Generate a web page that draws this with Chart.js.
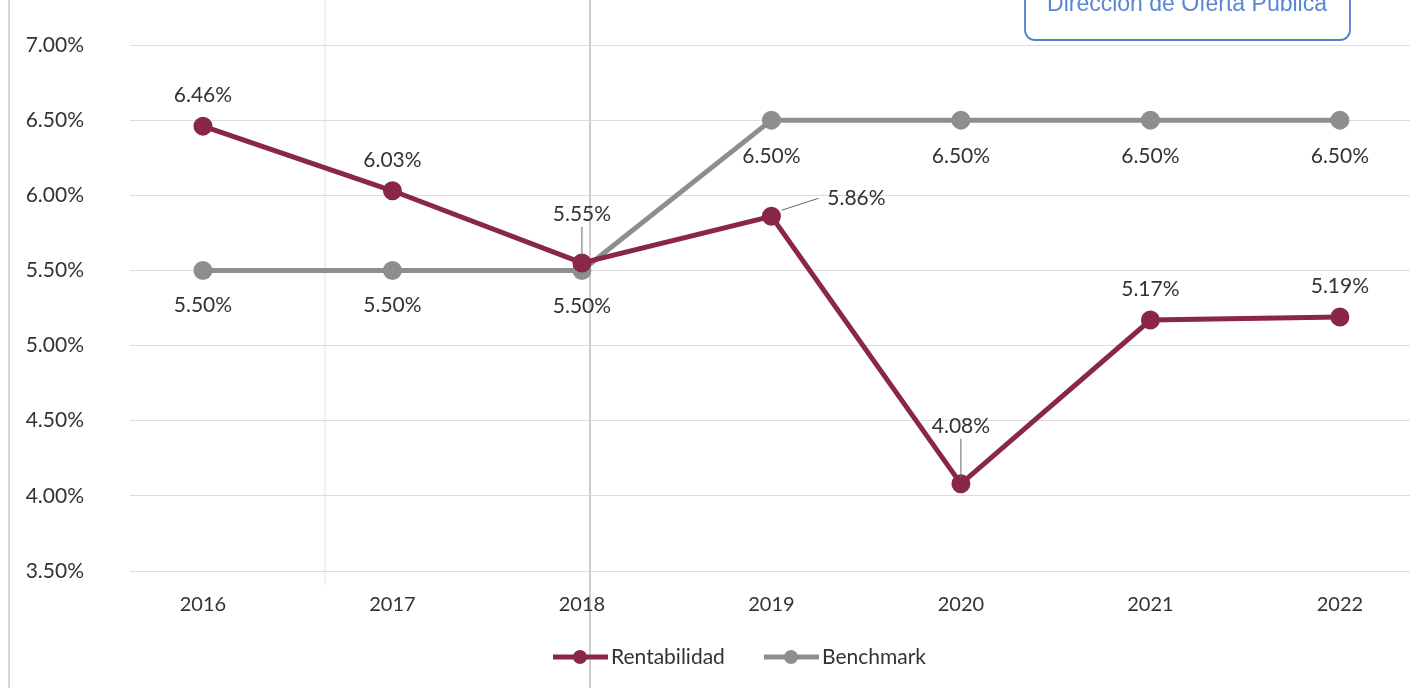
<!DOCTYPE html>
<html>
<head>
<meta charset="utf-8">
<script src="https://cdn.jsdelivr.net/npm/chart.js@4.4.0/dist/chart.umd.min.js"></script>
<style>
  html, body { margin: 0; padding: 0; background: #fff; }
  #wrap { width: 1417px; height: 688px; position: relative; }
</style>
</head>
<body>
<div id="wrap"><canvas id="chart" width="1417" height="688"></canvas></div>
<script>
const years = [2016, 2017, 2018, 2019, 2020, 2021, 2022];
const rentabilidad = [6.46, 6.03, 5.55, 5.86, 4.08, 5.17, 5.19];
const benchmark = [5.50, 5.50, 5.50, 6.50, 6.50, 6.50, 6.50];
const yTicks = [3.5, 4.0, 4.5, 5.0, 5.5, 6.0, 6.5, 7.0];

const RED = '#8a2748';
const GREY = '#8e8e8e';
const FONT = 'Lato, "Open Sans", sans-serif';

// label placement per point: [dx, dy, leader]
const rentLabelPos = [
    [0, -31], [0, -31], [0, -49, true], [85, -18, true], [0, -58, true], [0, -31], [0, -31]
];
const benchLabelPos = [
    [0, 35], [0, 35], [0, 36], [0, 36], [0, 36], [0, 36], [0, 36]
];

const fmt = v => v.toFixed(2) + '%';

const decor = {
    id: 'decor',
    beforeDraw(chart) {
        const ctx = chart.ctx;
        ctx.save();
        // scan artefacts: page edge and fold lines
        ctx.strokeStyle = '#c8c8c8';
        ctx.lineWidth = 1.5;
        ctx.beginPath(); ctx.moveTo(9, 0); ctx.lineTo(9, 688); ctx.stroke();
        ctx.strokeStyle = '#e2e2e2';
        ctx.lineWidth = 1;
        ctx.beginPath(); ctx.moveTo(325, 0); ctx.lineTo(325, 585); ctx.stroke();
        ctx.strokeStyle = '#bdbdbd';
        ctx.lineWidth = 1.5;
        ctx.beginPath(); ctx.moveTo(590, 0); ctx.lineTo(590, 688); ctx.stroke();
        ctx.restore();
    },
    afterDraw(chart) {
        const ctx = chart.ctx;
        const xs = chart.scales.x, ys = chart.scales.y;
        ctx.save();
        ctx.font = '21px ' + FONT;
        ctx.fillStyle = '#333';
        ctx.textAlign = 'center';
        ctx.textBaseline = 'middle';
        const drawLabels = (vals, pos) => {
            vals.forEach((v, i) => {
                const px = xs.getPixelForValue(years[i]);
                const py = ys.getPixelForValue(v);
                const [dx, dy, leader] = pos[i];
                const lx = px + dx, ly = py + dy;
                ctx.fillText(fmt(v), lx, ly);
                if (leader) {
                    ctx.strokeStyle = '#666';
                    ctx.lineWidth = 1;
                    ctx.beginPath();
                    if (dx === 0) {
                        ctx.moveTo(px, ly + 13);
                        ctx.lineTo(px, py - 6);
                    } else {
                        ctx.moveTo(px + 10, py - 6);
                        ctx.lineTo(lx - 38, ly);
                    }
                    ctx.stroke();
                }
            });
        };
        drawLabels(benchmark, benchLabelPos);
        drawLabels(rentabilidad, rentLabelPos);

        // legend
        ctx.textAlign = 'left';
        ctx.font = '21px ' + FONT;
        const items = chart.data.datasets.map(d => ({ label: d.label, color: d.borderColor }));
        let x = 553;
        const ly = 657;
        items.forEach(it => {
            ctx.strokeStyle = it.color;
            ctx.lineWidth = 5;
            ctx.beginPath(); ctx.moveTo(x, ly); ctx.lineTo(x + 55, ly); ctx.stroke();
            ctx.fillStyle = it.color;
            ctx.beginPath(); ctx.arc(x + 27, ly, 7, 0, Math.PI * 2); ctx.fill();
            ctx.fillStyle = '#333';
            ctx.fillText(it.label, x + 58, ly);
            x += 211;
        });

        // stamp
        ctx.strokeStyle = '#4f7fd0';
        ctx.lineWidth = 1.8;
        ctx.beginPath();
        ctx.roundRect(1025, -30, 325, 70, 10);
        ctx.stroke();
        ctx.fillStyle = '#5a87d2';
        ctx.font = '23px "Liberation Sans", Arial, sans-serif';
        ctx.textAlign = 'center';
        ctx.fillText('Dirección de Oferta Pública', 1187, 5);
        ctx.restore();
    }
};

new Chart(document.getElementById('chart').getContext('2d'), {
    type: 'line',
    data: {
        datasets: [{
            label: 'Rentabilidad',
            data: years.map((y, i) => ({ x: y, y: rentabilidad[i] })),
            borderColor: RED,
            backgroundColor: RED,
            borderWidth: 5,
            pointRadius: 7,
            pointHoverRadius: 7,
            pointBackgroundColor: RED,
            pointBorderColor: RED,
            tension: 0,
        }, {
            label: 'Benchmark',
            data: years.map((y, i) => ({ x: y, y: benchmark[i] })),
            borderColor: GREY,
            backgroundColor: GREY,
            borderWidth: 5,
            pointRadius: 7,
            pointHoverRadius: 7,
            pointBackgroundColor: GREY,
            pointBorderColor: GREY,
            tension: 0,
        }],
    },
    options: {
        responsive: false,
        animation: false,
        layout: { autoPadding: false, padding: { top: 45, right: 7, left: 0, bottom: 0 } },
        plugins: {
            legend: { display: false },
            tooltip: { enabled: false },
        },
        scales: {
            x: {
                type: 'linear',
                min: 2015.615,
                max: 2022.37,
                afterBuildTicks: scale => { scale.ticks = years.map(v => ({ value: v })); },
                grid: { display: false, drawTicks: false },
                border: { display: false },
                ticks: {
                    padding: 22,
                    color: '#333',
                    font: { family: FONT, size: 20 },
                    callback: v => String(v),
                },
                afterFit: s => { s.height = 117; },
            },
            y: {
                min: 3.5,
                max: 7.0,
                afterBuildTicks: scale => { scale.ticks = yTicks.map(v => ({ value: v })); },
                grid: { color: '#dcdcdc', lineWidth: 1, drawTicks: false },
                border: { display: false },
                ticks: {
                    padding: 46,
                    color: '#333',
                    font: { family: FONT, size: 21 },
                    callback: v => fmt(v),
                },
                afterFit: s => { s.width = 130; s.paddingTop = 0; s.paddingBottom = 0; },
            },
        },
    },
    plugins: [decor],
});
</script>
</body>
</html>
